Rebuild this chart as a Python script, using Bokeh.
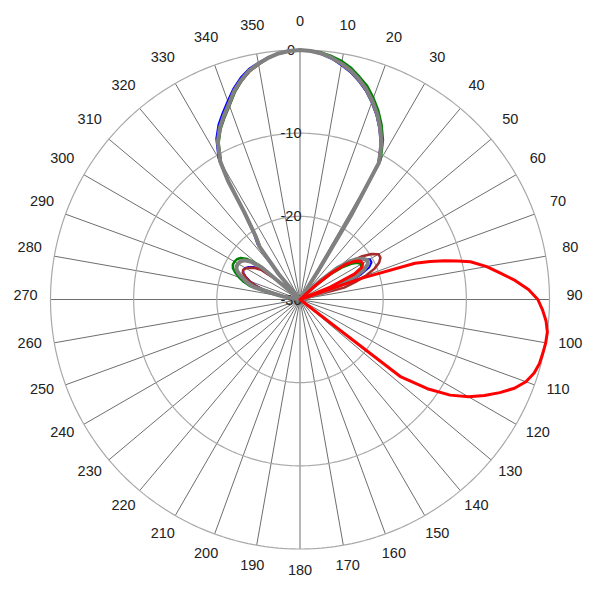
import numpy as np
from bokeh.plotting import figure
from bokeh.models import Range1d
from bokeh.core.properties import value
from bokeh.embed import file_html
from bokeh.resources import INLINE

# ---------------- data (dB; angle in degrees clockwise from 0 at top) ----------------
ring_levels = [0, -10, -20, -30]
ring_labels = ["0", "-10", "-20", "-30"]
angle_ticks = list(range(0, 360, 10))
angle_labels = [str(a) for a in angle_ticks]
db_min = -30
db_max = 0

# angle grids of the lobes
ang_left_lobe = [-82.5, -80, -77.5, -75, -72.5, -70, -67.5, -65, -62.5, -60,
                 -57.5, -55, -52.5, -50, -47.5]
ang_main_lobe = [-42.5, -40, -37.5, -35, -32.5, -31.25, -30, -27.5, -25, -22.5, -20,
                 -17.5, -15, -12.5, -10, -7.5, -5, -2.5, 0, 2.5, 5, 7.5, 10, 12.5,
                 15, 17.5, 20, 22.5, 25, 27.5, 30, 31.25, 32.5, 35]
ang_right_lobe = [45, 47.5, 50, 52.5, 55, 57.5, 60, 62.5, 65, 67.5, 70, 72.5, 75, 77.5]

# blue
blue_left = [-30, -28.5, -27.5, -25.5, -24.4, -23.6, -23, -22.5, -22.3, -22.4,
             -22.7, -23.2, -24, -26, -30]
blue_main = [-30, -25.6, -21.6, -20.3, -17.0, -13.0, -10.4, -8.2, -6.8, -5.7, -4.6,
             -3.4, -2.4, -1.6, -1.1, -0.6, -0.3, -0.1, 0, -0.1, -0.4, -0.8, -1.4, -2.0,
             -2.8, -3.7, -4.8, -6.0, -7.4, -9.0, -11.2, -18.2, -26.2, -30]
blue_right = [-30, -28, -25, -23.3, -22, -21, -20.3, -20.3, -20.8, -22, -23.5, -26.5, -30, -30]

# green
green_left = [-30, -27.5, -26, -23.8, -22.9, -22.2, -21.6, -21.1, -20.9, -20.9,
              -21.0, -21.3, -22, -23.5, -30]
green_main = [-30, -26.2, -22.2, -20.9, -17.7, -13.6, -11.0, -8.8, -7.4, -6.3, -5.2,
              -3.9, -2.8, -1.9, -1.3, -0.7, -0.3, -0.1, 0, -0.1, -0.2, -0.5, -0.9, -1.5,
              -2.3, -3.1, -4.2, -5.4, -6.8, -8.4, -10.6, -17.6, -25.8, -30]
green_right = [-30, -28, -25.5, -23.7, -22.5, -21.8, -21.5, -21.7, -22.5, -23.8, -25.5, -30, -30, -30]

# brown
brown_left = [-30, -28.5, -27.3, -25.3, -24.3, -23.5, -22.9, -22.4, -22.3, -22.5,
              -22.9, -23.4, -24.2, -26.5, -30]
brown_main = [-30, -26.1, -22.1, -20.8, -17.6, -13.4, -10.9, -8.7, -7.3, -6.2, -5.1,
              -3.8, -2.8, -1.9, -1.3, -0.7, -0.3, -0.1, 0, -0.1, -0.3, -0.7, -1.3, -1.9,
              -2.7, -3.6, -4.7, -5.9, -7.3, -8.9, -11.1, -18.1, -26.1, -30]
brown_right = [-30, -27, -24.5, -22.5, -21, -19.8, -19.1, -19.1, -19.5, -20.3, -21.5, -23, -24.5, -30]

# gray
gray_left = [-30, -28, -26.8, -24.3, -23.4, -22.8, -22.1, -21.6, -21.4, -21.4,
             -21.5, -21.8, -22.5, -24, -30]
gray_main = [-30, -26, -22, -20.7, -17.5, -13.3, -10.8, -8.6, -7.2, -6.1, -5.0,
             -3.7, -2.7, -1.8, -1.2, -0.7, -0.3, -0.1, 0, -0.1, -0.3, -0.7, -1.2, -1.8,
             -2.6, -3.5, -4.6, -5.8, -7.2, -8.8, -11, -18, -26, -30]
gray_right = [-30, -26.5, -24, -22.5, -21.5, -20.9, -20.6, -20.8, -21.5, -22.8, -24.5, -27, -30, -30]

# red
ang_red = [45, 47.5, 50, 52.5, 55, 57.5, 60, 62.5, 65, 67.5, 69,
           71, 72.5, 73.75, 75, 76.25, 77.5, 80, 82.5, 85, 87.5, 90, 92.5, 95, 97.5, 100,
           102.5, 105, 107.5, 110, 112.5, 115, 117.5, 120, 122.5, 125, 127.5, 130]
db_red = [-30, -27.5, -25, -23, -22, -21.4, -21.3, -21.6, -22.8, -26, -30,
          -22, -15.5, -13.7, -12, -10.5, -9, -7.2, -5.7, -4, -2.5, -1.4, -0.8, -0.3, 0, 0,
          -0.1, -0.2, -0.5, -1.1, -2.1, -3.5, -5, -6.6, -8.6, -11.3, -14.7, -30]

lobe_angles = ang_left_lobe + ang_main_lobe + ang_right_lobe
series = [
    (lobe_angles, blue_left + blue_main + blue_right, "#0000ff", 2.0),
    (lobe_angles, green_left + green_main + green_right, "#008000", 2.5),
    (lobe_angles, brown_left + brown_main + brown_right, "#a52a2a", 2.5),
    (lobe_angles, gray_left + gray_main + gray_right, "#808080", 4.0),
    (ang_red, db_red, "#ff0000", 3.0),
]

# ---------------- geometry ----------------
R = 249.5  # outer radius in data units (= pixels)


def radius(db):
    d = np.clip(np.asarray(db, dtype=float), db_min, db_max)
    return (d - db_min) / (db_max - db_min) * R


def to_xy(ang, db):
    t = np.radians(np.asarray(ang, dtype=float))
    r = radius(db)
    return r * np.sin(t), r * np.cos(t)


p = figure(width=592, height=592, output_backend="svg", toolbar_location=None,
           x_range=Range1d(-291.5, 292.5), y_range=Range1d(-293, 291),
           min_border_left=8, min_border_top=8, min_border_right=0, min_border_bottom=0)
p.axis.visible = False
p.grid.visible = False
p.outline_line_color = None
p.background_fill_color = "white"
p.border_fill_color = "white"

# spokes
ta = np.radians(np.array(angle_ticks, dtype=float))
p.segment(x0=np.zeros(len(ta)), y0=np.zeros(len(ta)),
          x1=R * np.sin(ta), y1=R * np.cos(ta),
          line_color="#6e6e6e", line_width=1)

# rings
theta = np.linspace(0, 2 * np.pi, 361)
for lv in ring_levels[:-1]:
    rr = float(radius([lv])[0])
    p.line(rr * np.sin(theta), rr * np.cos(theta), line_color="#a8a8a8", line_width=1.2)

# ring labels
ry = radius(ring_levels)
p.text(x=[-9] * len(ring_levels), y=list(ry), text=ring_labels,
       text_align="center", text_baseline="middle",
       text_font=value("Liberation Sans"), text_font_size="14.5px", text_color="#222222")

# angle labels
LR = 274.5
lx = LR * np.sin(ta)
ly = LR * np.cos(ta) + 4.5
p.text(x=list(lx), y=list(ly), text=angle_labels,
       text_align="center", text_baseline="middle",
       text_font=value("Liberation Sans"), text_font_size="14.5px", text_color="#222222")

# pattern curves
for ang, db, col, lw in series:
    x, y = to_xy(ang, db)
    x = np.append(x, x[0])
    y = np.append(y, y[0])
    p.line(x, y, line_color=col, line_width=lw, line_join="round")

open("out.html", "w").write(file_html(p, INLINE))
